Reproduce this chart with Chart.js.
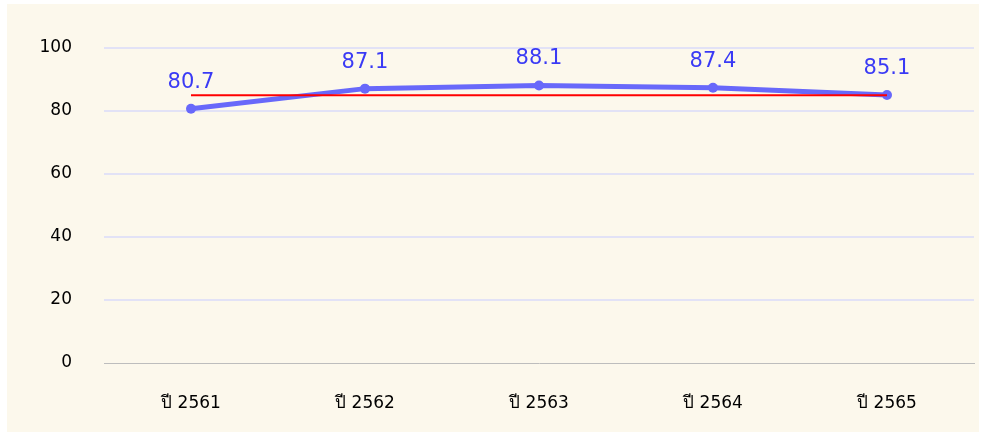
<!DOCTYPE html>
<html>
<head>
<meta charset="utf-8">
<script src="https://cdn.jsdelivr.net/npm/chart.js@4"></script>
<style>
    html, body { margin: 0; padding: 0; background: #ffffff; }
    #wrap { position: absolute; left: 7px; top: 4px; width: 972px; height: 428px; background: #fcf8ec; }
</style>
</head>
<body>
<div id="wrap"><canvas id="scoreChart"></canvas></div>
<script>
// ข้อมูลกราฟ
const years = ['ปี 2561', 'ปี 2562', 'ปี 2563', 'ปี 2564', 'ปี 2565'];
const scores = [80.7, 87.1, 88.1, 87.4, 85.1];
const target = [85, 85, 85, 85, 85];
const yTicks = [0, 20, 40, 60, 80, 100];

// ป้ายค่าเหนือจุด
const valueLabels = {
    id: 'valueLabels',
    afterDatasetsDraw(chart) {
        const ctx = chart.ctx;
        const meta = chart.getDatasetMeta(1);
        ctx.save();
        ctx.font = '21px "DejaVu Sans"';
        ctx.fillStyle = '#3a3af5';
        ctx.textAlign = 'center';
        ctx.textBaseline = 'alphabetic';
        meta.data.forEach(function(pt, i) {
            ctx.fillText(scores[i].toFixed(1), pt.x, pt.y - 21);
        });
        ctx.restore();
    }
};

document.addEventListener('DOMContentLoaded', function() {
    const el = document.getElementById('scoreChart');
    new Chart(el, {
        type: 'line',
        data: {
            labels: years,
            datasets: [
                {
                    label: 'เป้าหมาย',
                    data: target,
                    borderColor: '#ff0000',
                    borderWidth: 2,
                    pointRadius: 0,
                    order: 0
                },
                {
                    label: 'ผลการดำเนินงาน',
                    data: scores,
                    borderColor: '#6868fa',
                    backgroundColor: '#6868fa',
                    borderWidth: 5,
                    pointRadius: 5,
                    pointBorderWidth: 0,
                    tension: 0,
                    order: 1
                }
            ]
        },
        options: {
            responsive: true,
            maintainAspectRatio: false,
            animation: false,
            layout: { padding: { top: 44, right: 2, left: 0, bottom: 0 } },
            plugins: {
                legend: { display: false },
                tooltip: { enabled: false }
            },
            scales: {
                x: {
                    offset: true,
                    grid: { display: false, drawTicks: false },
                    border: { display: true, color: '#bdbdbd', width: 1 },
                    ticks: {
                        color: '#000',
                        font: { family: '"DejaVu Sans"', size: 17 },
                        padding: 30
                    },
                    afterFit: function(scale) { scale.height = 69; }
                },
                y: {
                    min: 0,
                    max: 100,
                    afterBuildTicks: function(scale) {
                        scale.ticks = yTicks.map(function(v) { return { value: v }; });
                    },
                    grid: {
                        color: function(c) { return c.tick && c.tick.value === 0 ? 'rgba(0,0,0,0)' : '#e2e2f6'; },
                        lineWidth: 2,
                        drawTicks: false
                    },
                    border: { display: false },
                    ticks: {
                        color: '#000',
                        font: { family: '"DejaVu Sans"', size: 17 },
                        padding: 32
                    },
                    afterFit: function(scale) { scale.width = 97; }
                }
            }
        },
        plugins: [valueLabels]
    });
});
</script>
</body>
</html>
